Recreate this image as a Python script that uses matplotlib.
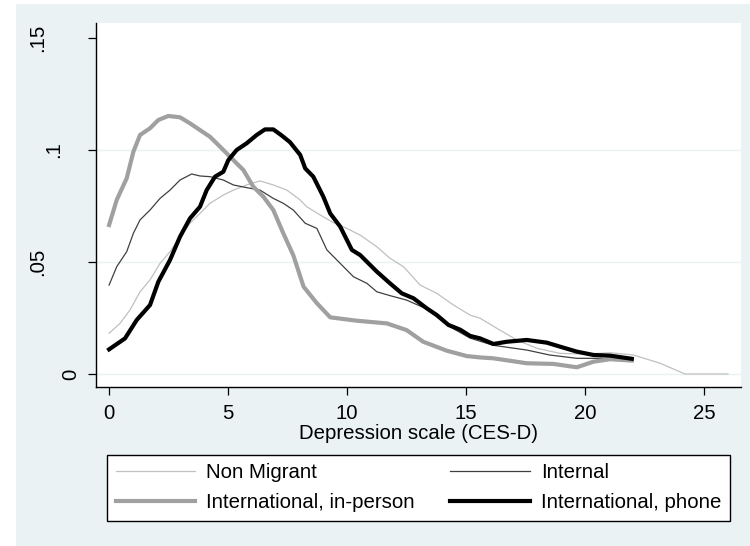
import matplotlib
matplotlib.use("Agg")
import matplotlib.pyplot as plt
from matplotlib.patches import Rectangle
from matplotlib.transforms import ScaledTranslation

plt.rcParams['font.family'] = ['Liberation Sans', 'DejaVu Sans']

# kernel density curves
nonmig_x = [0, .46, .88, 1.3, 1.72, 2.14, 2.56, 2.98, 3.4, 3.82, 4.24, 4.8, 5.22, 5.78, 6.34, 6.9,
            7.47, 8.03, 8.3, 8.87, 9.42, 9.99, 10.55, 11.25, 11.8, 12.37, 13.07, 13.77, 14.47,
            15.17, 15.59, 16.29, 17.13, 17.97, 18.95, 20.07, 21.05, 22.03, 23.15, 24.2, 26.0]
nonmig_y = [.0182, .0226, .0286, .0367, .0420, .0494, .0546, .0613, .0673, .0717, .0762, .0799,
            .0821, .0844, .0862, .0844, .0821, .0777, .0747, .0710, .0676, .0650, .0620, .0568,
            .0517, .0479, .0397, .0360, .0308, .0263, .0249, .0204, .0152, .0115, .0092, .0089,
            .0095, .0085, .0048, .0000, .0000]

internal_x = [0, .32, .74, 1.02, 1.3, 1.72, 2.14, 2.56, 2.98, 3.47, 3.82, 4.24, 4.8, 5.22, 5.78,
              6.34, 6.9, 7.32, 7.74, 8.24, 8.73, 9.15, 9.71, 10.27, 10.83, 11.25, 11.8, 12.5,
              13.35, 14.26, 15.17, 16.15, 17.55, 18.5, 19.65, 20.63, 21.96]
internal_y = [.0397, .0479, .0546, .0628, .0688, .0732, .0784, .0821, .0866, .0893, .0884, .0881,
              .0866, .0844, .0832, .0821, .0784, .0762, .0732, .0673, .0650, .0554, .0494, .0434,
              .0405, .0367, .0350, .0330, .0290, .0215, .0160, .0128, .0107, .0085, .0070, .0070,
              .0066]

inperson_x = [0, .32, .74, 1.02, 1.3, 1.72, 2.07, 2.49, 2.98, 3.4, 3.82, 4.24, 4.66, 5.22, 5.64,
              6.06, 6.48, 6.9, 7.32, 7.74, 8.17, 8.73, 9.29, 10.4, 11.67, 12.5, 13.2, 14.19,
              15.03, 15.59, 16.15, 17.55, 18.67, 19.65, 20.35, 21.05, 21.96]
inperson_y = [.0665, .0777, .0874, .0992, .1067, .1097, .1134, .1152, .1146, .1119, .1089, .1059,
              .1015, .0955, .0911, .0836, .0792, .0732, .0628, .0530, .0390, .0316, .0253, .0238,
              .0226, .0196, .0144, .0104, .0080, .0074, .0070, .0048, .0045, .0030, .0055, .0066,
              .0060]

phone_x = [0, .67, 1.16, 1.72, 2.07, 2.56, 2.98, 3.4, 3.82, 4.1, 4.45, 4.8, 5.01, 5.36, 5.78, 6.2,
           6.55, 6.9, 7.25, 7.6, 8.03, 8.24, 8.58, 9.0, 9.29, 9.71, 10.2, 10.55, 11.25, 11.8,
           12.3, 12.79, 13.35, 13.77, 14.26, 14.75, 15.17, 15.59, 16.15, 16.71, 17.55, 18.39,
           18.95, 19.65, 20.35, 21.05, 21.96]
phone_y = [.0110, .0159, .0241, .0308, .0412, .0509, .0613, .0695, .0747, .0821, .0881, .0903,
           .0955, .1000, .1030, .1067, .1092, .1092, .1065, .1035, .0978, .0918, .0881, .0792,
           .0717, .0658, .0554, .0531, .0457, .0405, .0360, .0338, .0293, .0263, .0219, .0198,
           .0170, .0159, .0134, .0144, .0152, .0140, .0122, .0100, .0085, .0082, .0068]

x_ticks = [0, 5, 10, 15, 20, 25]
y_ticks = [0, .05, .1, .15]
y_labels = ['0', '.05', '.1', '.15']
grid_vals = [0, .05, .1]

bg = '#eaf2f3'
fs = 14.7

fig = plt.figure(figsize=(7.5, 5.46), dpi=100)
fig.patches.append(Rectangle((16 / 750, 0), 1, 542 / 546, transform=fig.transFigure,
                             facecolor=bg, edgecolor='none', zorder=-10))

ax = fig.add_axes([96 / 750, 159 / 546, 645 / 750, 364 / 546])
ax.set_facecolor('white')

for g in grid_vals:
    ax.axhline(g, color=bg, lw=1.0, zorder=1)

l_nm, = ax.plot(nonmig_x, nonmig_y, color='#c0c0c0', lw=0.9, label='Non Migrant', zorder=3)
l_in, = ax.plot(internal_x, internal_y, color='#404040', lw=0.9, label='Internal', zorder=3)
l_ip, = ax.plot(inperson_x, inperson_y, color='#a0a0a0', lw=3.0,
                label='International, in-person', zorder=3)
l_ph, = ax.plot(phone_x, phone_y, color='black', lw=3.0, label='International, phone', zorder=4)

ax.set_xlim(-0.55, 26.55)
ax.set_ylim(-0.0058, 0.1567)

for s in ['top', 'right']:
    ax.spines[s].set_visible(False)
for s in ['left', 'bottom']:
    ax.spines[s].set_linewidth(1.0)

ax.set_xticks(x_ticks)
ax.set_yticks(y_ticks)
ax.set_yticklabels(y_labels, rotation=90, va='center')
ax.tick_params(axis='both', length=6, width=0.9, labelsize=fs, color='black')
ax.tick_params(axis='y', pad=5)
ax.tick_params(axis='x', pad=6)

# Stata shifts rotated labels by their string width
shifts = {'0': 0, '.05': 34, '.1': 18, '.15': 34}
for lab in ax.get_yticklabels():
    dx = shifts.get(lab.get_text(), 0) / 100
    lab.set_transform(lab.get_transform() + ScaledTranslation(-dx, 0, fig.dpi_scale_trans))

ax.set_xlabel('Depression scale (CES-D)', fontsize=fs, labelpad=1)

# column-wise fill -> row 1: Non Migrant, Internal ; row 2: in-person, phone
handles = [l_nm, l_ip, l_in, l_ph]
leg = fig.legend(handles, [h.get_label() for h in handles], ncol=2, loc='lower left',
                 bbox_to_anchor=(107 / 750, 25 / 546, 623 / 750, 66 / 546), mode='expand',
                 fontsize=fs, frameon=True, fancybox=False, framealpha=1, handlelength=3.9,
                 handletextpad=0.55, borderpad=0.42, labelspacing=0.55, borderaxespad=0,
                 columnspacing=1.0)
leg.get_frame().set_edgecolor('black')
leg.get_frame().set_linewidth(1.0)

fig.savefig('out.png', dpi=100, facecolor='white')
